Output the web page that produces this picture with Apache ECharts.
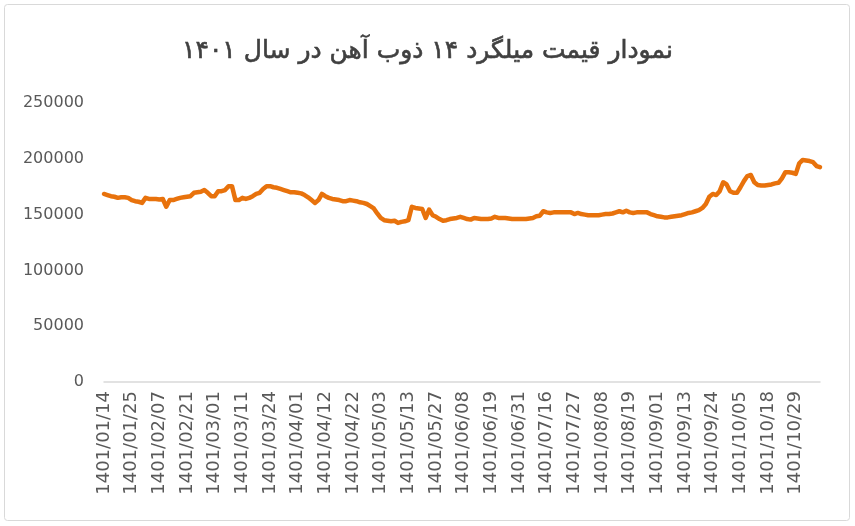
<!DOCTYPE html>
<html>
<head>
<meta charset="utf-8">
<script src="https://cdn.jsdelivr.net/npm/echarts@6/dist/echarts.min.js"></script>
<style>
html,body{margin:0;padding:0;background:#fff;}
#chart{width:855px;height:526px;}
</style>
</head>
<body>
<div id="chart"></div>
<script>
const titleText = 'نمودار قیمت میلگرد ۱۴ ذوب آهن در سال ۱۴۰۱';

const dates = [
'1401/01/14','1401/01/15','1401/01/16','1401/01/18','1401/01/19','1401/01/21','1401/01/22','1401/01/24',
'1401/01/25','1401/01/26','1401/01/27','1401/01/29','1401/01/30','1401/02/01','1401/02/03','1401/02/05',
'1401/02/07','1401/02/08','1401/02/10','1401/02/11','1401/02/13','1401/02/15','1401/02/17','1401/02/19',
'1401/02/21','1401/02/22','1401/02/23','1401/02/25','1401/02/26','1401/02/28','1401/02/29','1401/02/31',
'1401/03/01','1401/03/02','1401/03/03','1401/03/05','1401/03/06','1401/03/07','1401/03/09','1401/03/10',
'1401/03/11','1401/03/12','1401/03/14','1401/03/15','1401/03/17','1401/03/19','1401/03/21','1401/03/22',
'1401/03/24','1401/03/25','1401/03/26','1401/03/27','1401/03/28','1401/03/29','1401/03/30','1401/03/31',
'1401/04/01','1401/04/02','1401/04/03','1401/04/05','1401/04/06','1401/04/08','1401/04/09','1401/04/11',
'1401/04/12','1401/04/13','1401/04/14','1401/04/16','1401/04/17','1401/04/18','1401/04/19','1401/04/21',
'1401/04/22','1401/04/23','1401/04/25','1401/04/26','1401/04/28','1401/04/29','1401/05/01','1401/05/02',
'1401/05/03','1401/05/04','1401/05/05','1401/05/07','1401/05/08','1401/05/09','1401/05/10','1401/05/12',
'1401/05/13','1401/05/14','1401/05/16','1401/05/17','1401/05/19','1401/05/21','1401/05/23','1401/05/25',
'1401/05/27','1401/05/28','1401/05/29','1401/05/31','1401/06/01','1401/06/02','1401/06/05','1401/06/06',
'1401/06/08','1401/06/09','1401/06/12','1401/06/13','1401/06/14','1401/06/15','1401/06/16','1401/06/18',
'1401/06/19','1401/06/20','1401/06/21','1401/06/22','1401/06/23','1401/06/26','1401/06/27','1401/06/29',
'1401/06/31','1401/07/02','1401/07/03','1401/07/05','1401/07/06','1401/07/09','1401/07/11','1401/07/13',
'1401/07/16','1401/07/17','1401/07/18','1401/07/19','1401/07/20','1401/07/23','1401/07/24','1401/07/25',
'1401/07/27','1401/07/30','1401/08/01','1401/08/02','1401/08/03','1401/08/04','1401/08/06','1401/08/07',
'1401/08/08','1401/08/09','1401/08/10','1401/08/11','1401/08/14','1401/08/15','1401/08/16','1401/08/17',
'1401/08/19','1401/08/21','1401/08/22','1401/08/23','1401/08/24','1401/08/25','1401/08/28','1401/08/29',
'1401/09/01','1401/09/02','1401/09/05','1401/09/06','1401/09/07','1401/09/08','1401/09/09','1401/09/12',
'1401/09/13','1401/09/14','1401/09/15','1401/09/16','1401/09/19','1401/09/20','1401/09/21','1401/09/22',
'1401/09/24','1401/09/26','1401/09/27','1401/09/28','1401/09/29','1401/10/01','1401/10/03','1401/10/04',
'1401/10/05','1401/10/06','1401/10/07','1401/10/10','1401/10/11','1401/10/12','1401/10/13','1401/10/14',
'1401/10/18','1401/10/19','1401/10/20','1401/10/21','1401/10/24','1401/10/25','1401/10/26','1401/10/27',
'1401/10/29','1401/10/30','1401/11/01','1401/11/02','1401/11/03','1401/11/04','1401/11/05','1401/11/08'
];

const prices = [
168500,167500,166500,166000,165000,165500,165500,165000,
163000,162000,161500,160500,165000,164000,164000,164000,
163500,164000,157000,163000,163000,164000,165000,165500,
166000,166500,169500,170000,170500,172000,169500,166500,
166500,171000,171000,172000,175500,175500,163000,163000,
165000,164000,165000,166500,168500,169500,173000,175500,
175500,174500,174000,173000,172000,171000,170000,170000,
169500,169000,167500,165500,163000,160500,163000,168500,
166500,165000,164000,163500,163000,162000,162000,163000,
162500,162000,161000,160500,159500,157500,155500,151000,
147000,145000,144500,144000,144500,142500,143500,144000,
145000,157000,156000,155500,155000,147000,154500,149500,
148000,146000,144500,145000,146000,146500,147000,148000,
147000,146000,145500,147000,146500,146000,146000,146000,
146500,148000,147000,147000,147000,146500,146000,146000,
146000,146000,146000,146500,147000,148500,149000,153000,
152000,151500,152000,152000,152000,152000,152000,152000,
150500,151500,150500,150000,149500,149500,149500,149500,
150000,150500,150500,151000,152000,153000,152000,153500,
152000,151500,152000,152000,152000,152000,150500,149500,
148500,148000,147500,147500,148000,148500,149000,149500,
150500,151500,152000,153000,154000,156000,159500,166000,
168500,167500,171000,179000,177000,171000,169500,169500,
174500,180000,184500,185500,179000,176500,176000,176000,
176500,177000,178000,178500,182500,188000,188000,187500,
186500,196000,199000,198500,198000,197000,193500,192500
];

const yMin = 0, yMax = 250000, yStep = 50000;

const chart = echarts.init(document.getElementById('chart'), null, {renderer:'canvas'});
chart.setOption({
  animation: false,
  backgroundColor: '#ffffff',
  graphic: [{
    type: 'rect',
    shape: {x: 4.5, y: 4.5, width: 845, height: 516, r: 3},
    style: {fill: 'none', stroke: '#d9d9d9', lineWidth: 1},
    silent: true
  }],
  title: {
    text: titleText,
    left: 'center',
    top: 34,
    textStyle: {fontFamily: 'DejaVu Sans', fontSize: 25, fontWeight: 'normal', color: '#404040', textBorderColor: '#404040', textBorderWidth: 0.6}
  },
  grid: {left: 104, right: 35, top: 103, bottom: 144, containLabel: false},
  xAxis: {
    type: 'category',
    data: dates,
    boundaryGap: false,
    axisLine: {show: true, lineStyle: {color: '#d9d9d9', width: 1.5}},
    axisTick: {show: false},
    axisLabel: {
      interval: 7,
      rotate: 90,
      margin: 9,
      fontFamily: 'DejaVu Sans',
      fontSize: 18,
      color: '#595959'
    },
    splitLine: {show: false}
  },
  yAxis: {
    type: 'value',
    min: yMin,
    max: yMax,
    interval: yStep,
    axisLine: {show: false},
    axisTick: {show: false},
    splitLine: {show: false},
    axisLabel: {
      margin: 20,
      fontFamily: 'DejaVu Sans',
      fontSize: 16,
      color: '#595959',
      formatter: function (v) { return String(v); }
    }
  },
  series: [{
    type: 'line',
    data: prices,
    showSymbol: false,
    symbol: 'none',
    lineStyle: {color: '#e8720c', width: 4.5, cap: 'round', join: 'round'},
    itemStyle: {color: '#e8720c'}
  }]
});
</script>
</body>
</html>
